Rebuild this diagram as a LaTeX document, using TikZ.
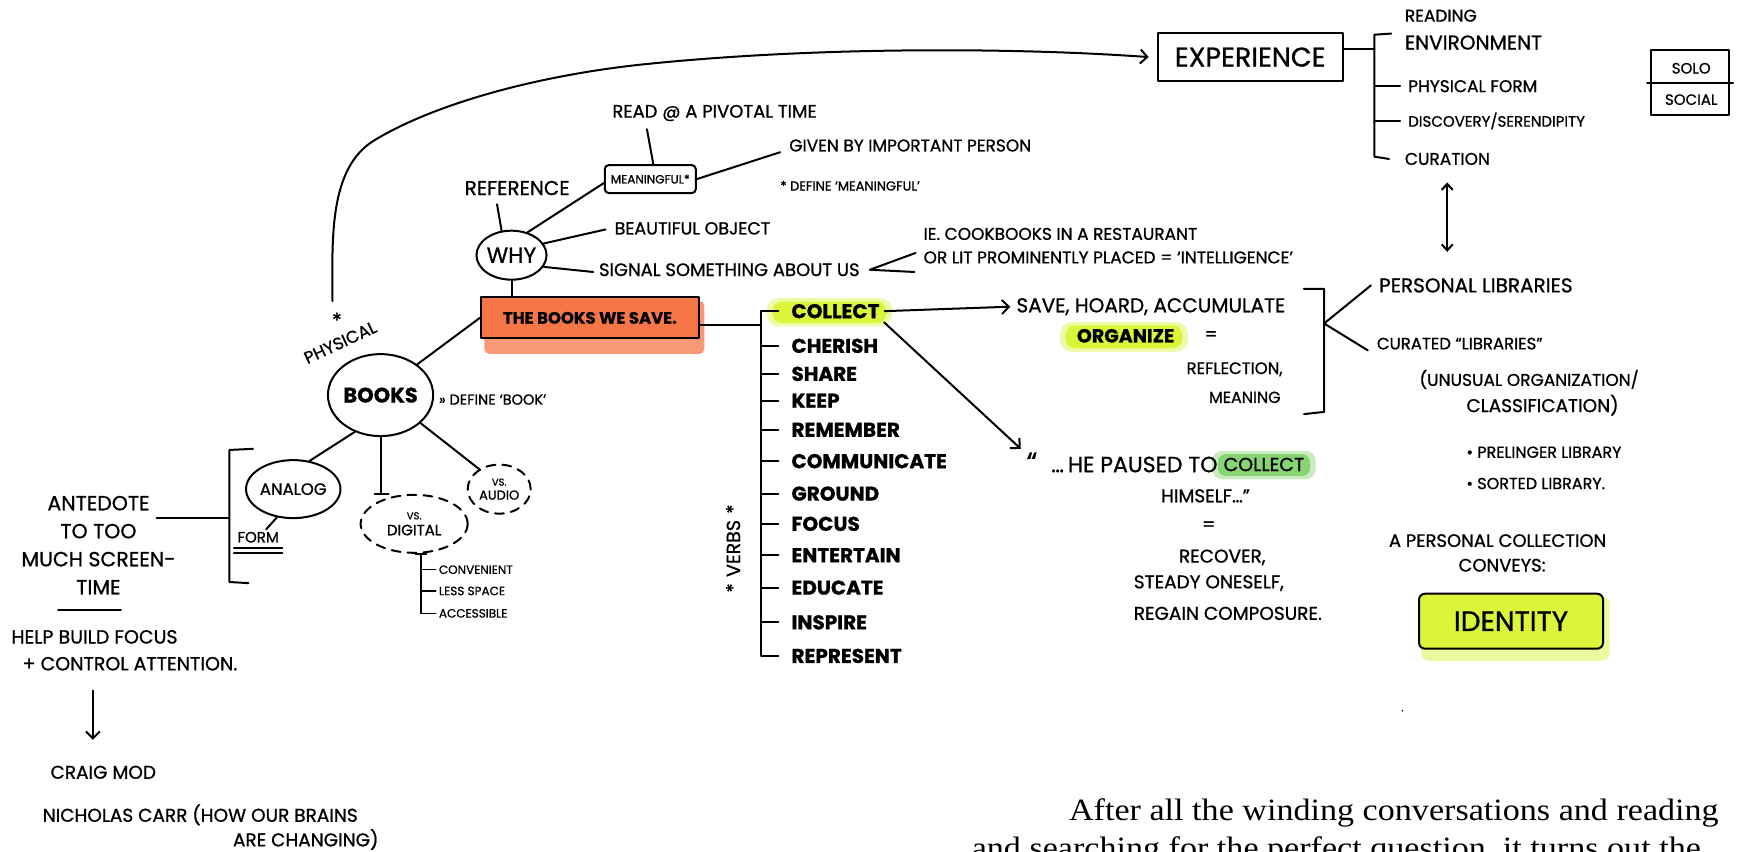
\documentclass[tikz,border=0pt]{standalone}
\usepackage{fontspec}
\setmainfont{Poppins}[FakeBold=0.9]
\newfontfamily\bodyserif{Liberation Serif}
\usetikzlibrary{arrows.meta,shapes.geometric,calc,backgrounds}
\definecolor{savebg}{RGB}{246,118,72}
\definecolor{limehl}{RGB}{218,245,58}
\definecolor{greenhl}{RGB}{120,205,95}
\begin{document}
\begin{tikzpicture}[x=1.1193pt,y=-1.1193pt,
  ink/.style={line width=2pt,line cap=round,line join=round,draw=black},
  inkthin/.style={line width=1.5pt,line cap=round,line join=round,draw=black},
  arrowend/.style={-{Straight Barb[length=7pt,width=14pt]}},
  arrowboth/.style={{Straight Barb[length=6pt,width=11pt]}-{Straight Barb[length=6pt,width=11pt]}},
  lab/.style={inner sep=0pt,anchor=west,font=\fontsize{#1}{#1}\selectfont},
  lab/.default=14,
  clab/.style={inner sep=0pt,anchor=center,font=\fontsize{#1}{#1}\selectfont},
  clab/.default=14,
  blab/.style={inner sep=0pt,anchor=west,font=\fontsize{#1}{#1}\selectfont\bfseries},
  bubble/.style={ellipse,ink,inner sep=0pt},
  dashbubble/.style={ellipse,ink,dash pattern=on 9pt off 7pt,inner sep=0pt},
  boxnode/.style={rectangle,ink,inner sep=0pt},
]
\useasboundingbox (0,0) rectangle (1568,761);

% ---------- central nodes ----------
\node[boxnode,fill=savebg,minimum width=218pt,minimum height=41pt,font=\fontsize{16.5}{16.5}\selectfont\bfseries] (save) at (527,284) {THE BOOKS WE SAVE.};
\node[bubble,minimum width=101pt,minimum height=82pt,font=\fontsize{21}{21}\selectfont\bfseries] (books) at (340,353) {BOOKS};
\node[bubble,minimum width=58pt,minimum height=49pt,font=\fontsize{22}{22}\selectfont] (why) at (457,228) {WHY};
\node[boxnode,rounded corners=4pt,minimum width=91pt,minimum height=28pt,font=\fontsize{12}{12}\selectfont] (meaning) at (581,160) {MEANINGFUL*};

\node[lab=20] (reference) at (415,168) {REFERENCE};
\node[lab=18] (pivotal) at (547,101) {READ @ A PIVOTAL TIME};
\node[lab=17] (given) at (705,130) {GIVEN BY IMPORTANT PERSON};
\node[lab=13] (defmean) at (697,166) {* DEFINE ‘MEANINGFUL’};
\node[lab=17.5] (beautiful) at (549,204) {BEAUTIFUL OBJECT};
\node[lab=18] (signal) at (535,241) {SIGNAL SOMETHING ABOUT US};
\node[lab=17] (ie1) at (825,209) {IE. COOKBOOKS IN A RESTAURANT};
\node[lab=17] (ie2) at (825,230) {OR LIT PROMINENTLY PLACED = ‘INTELLIGENCE’};
\node[lab=14.5] (defbook) at (392,357) {» DEFINE ‘BOOK’};

\node[lab=17,rotate=25,anchor=center] (physical) at (304,306) {PHYSICAL};
\node[clab=20] (pstar) at (301,286) {*};

% ---------- left branch ----------
\node[bubble,minimum width=85pt,minimum height=58pt,font=\fontsize{16.5}{16.5}\selectfont] (analog) at (262,437) {ANALOG};
\node[dashbubble,minimum width=107pt,minimum height=58pt,align=center,font=\fontsize{15}{16}\selectfont] (digital) at (370,468) {{\fontsize{10}{11}\selectfont VS.}\\DIGITAL};
\node[dashbubble,minimum width=63pt,minimum height=49pt,align=center,font=\fontsize{13}{14}\selectfont] (audio) at (446,437) {{\fontsize{10}{11}\selectfont VS.}\\AUDIO};
\node[lab=15] (form) at (212,480) {FORM};

\node[lab=12] (conv) at (392,509) {CONVENIENT};
\node[lab=12] (less) at (392,528) {LESS SPACE};
\node[lab=12] (acc) at (392,548) {ACCESSIBLE};

\node[inner sep=0pt,align=center,font=\fontsize{20.5}{28}\selectfont] (antedote) at (88,487) {ANTEDOTE\\TO TOO\\MUCH SCREEN-\\TIME};
\node[lab=19] (help1) at (10,569) {HELP BUILD FOCUS};
\node[lab=19] (help2) at (20,593) {+ CONTROL ATTENTION.};
\node[lab=18.5] (craig) at (45,690) {CRAIG MOD};
\node[lab=18.5] (carr1) at (38,728) {NICHOLAS CARR (HOW OUR BRAINS};
\node[lab=18.5] (carr2) at (208,750) {ARE CHANGING)};

% ---------- verbs ----------
\foreach \n/\t/\yy in {1/COLLECT/278,2/CHERISH/309,3/SHARE/334,4/KEEP/358,5/REMEMBER/384,6/COMMUNICATE/412,7/GROUND/441,8/FOCUS/468,9/ENTERTAIN/496,10/EDUCATE/525,11/INSPIRE/556,12/REPRESENT/586}
  \node[blab=20] (v\n) at (707,\yy) {\t};
\node[clab=19,rotate=90] (verbs) at (655,490) {*\,\,VERBS\,\,*};

% ---------- collect branch ----------
\node[lab=20] (hoard) at (908,274) {SAVE, HOARD, ACCUMULATE};
\node[blab=19] (organize) at (962,300) {ORGANIZE};
\node[clab=18] (eq1) at (1082,300) {=};
\node[lab=16.5] (reflect) at (1060,330) {REFLECTION,};
\node[lab=16] (meanw) at (1080,355) {MEANING};

\node[clab=28] (qo) at (922,413) {“};
\node[lab=22,anchor=east] (q1) at (1088,415) {…\hspace{4pt}HE PAUSED TO};
\node[lab=19] (qc) at (1093,415) {COLLECT};
\node[clab=18.5] (q2) at (1077,443) {HIMSELF…”};
\node[clab=18.5] (q3) at (1080,470) {=};
\node[clab=18.5] (q4) at (1092,498) {RECOVER,};
\node[clab=18.5] (q5) at (1080,521) {STEADY ONESELF,};
\node[clab=18.5] (q6) at (1097,548) {REGAIN COMPOSURE.};

% ---------- right side ----------
\node[lab=20] (personal) at (1232,255) {PERSONAL LIBRARIES};
\node[lab=16.5] (curated) at (1230,307) {CURATED “LIBRARIES”};
\node[lab=17] (unusual) at (1268,339) {(UNUSUAL ORGANIZATION/};
\node[lab=18.5] (classif) at (1310,362) {CLASSIFICATION)};
\node[lab=16] (prel) at (1310,404) {• PRELINGER LIBRARY};
\node[lab=16] (sorted) at (1310,432) {• SORTED LIBRARY.};
\node[clab=18] (apc) at (1338,483) {A PERSONAL COLLECTION};
\node[clab=18] (conveys) at (1342,505) {CONVEYS:};
\node[boxnode,fill=limehl,rounded corners=6pt,minimum width=184pt,minimum height=55pt,font=\fontsize{28}{28}\selectfont] (identity) at (1350,555) {IDENTITY};
\fill (1253,635) circle (0.9pt);

\node[boxnode,minimum width=185pt,minimum height=48pt,font=\fontsize{27}{27}\selectfont] (exp) at (1117,51) {EXPERIENCE};
\node[lab=17] (rd1) at (1255,14) {READING};
\node[lab=20] (rd2) at (1255,38) {ENVIRONMENT};
\node[lab=17] (pf) at (1258,77) {PHYSICAL FORM};
\node[lab=15] (disc) at (1258,108) {DISCOVERY/SERENDIPITY};
\node[lab=17] (cur) at (1255,142) {CURATION};

\node[boxnode,minimum width=78pt,minimum height=65pt] (solobox) at (1510,74) {};
\draw[ink] ([xshift=-3pt]solobox.west) -- ([xshift=3pt]solobox.east);
\node[clab=15] (solo) at (1511,61) {SOLO};
\node[clab=15] (social) at (1511,89) {SOCIAL};

% ---------- bottom paragraph ----------
\node[inner sep=0pt,anchor=base west,xscale=1.1,font=\bodyserif\fontsize{31}{31}\selectfont] (para1) at (955,733) {After all the winding conversations and reading};
\node[inner sep=0pt,anchor=base west,xscale=1.1,font=\bodyserif\fontsize{31}{31}\selectfont] (para2) at (868,767) {and searching for the perfect question, it turns out the};

% ---------- highlights (behind) ----------
\begin{pgfonlayer}{background}
\fill[white] (0,0) rectangle (1568,761);
\fill[savebg,opacity=.75,rounded corners=5pt] ([shift={(4,4)}]save.north west) rectangle ([shift={(4,13)}]save.south east);
\fill[limehl,opacity=.45,rounded corners=12pt] ([shift={(-22,-5)}]v1.north west) rectangle ([shift={(11,7)}]v1.south east);
\fill[limehl,rounded corners=10pt] ([shift={(-17,-2)}]v1.north west) rectangle ([shift={(6,4)}]v1.south east);
\fill[limehl,opacity=.45,rounded corners=12pt] ([shift={(-15,-6)}]organize.north west) rectangle ([shift={(12,8)}]organize.south east);
\fill[limehl,rounded corners=10pt] ([shift={(-10,-3)}]organize.north west) rectangle ([shift={(7,5)}]organize.south east);
\fill[greenhl,opacity=.4,rounded corners=10pt] ([shift={(-10,-6)}]qc.north west) rectangle ([shift={(10,7)}]qc.south east);
\fill[greenhl,opacity=.8,rounded corners=8pt] ([shift={(-5,-3)}]qc.north west) rectangle ([shift={(5,4)}]qc.south east);
\fill[limehl,opacity=.5,rounded corners=8pt] ([shift={(3,3)}]identity.north west) rectangle ([shift={(5,10)}]identity.south east);
\end{pgfonlayer}

% ---------- connectors ----------
\draw[ink] (books.40) -- (save.west);
\draw[ink] (why.south) -- (why.south |- save.north);
\draw[ink] (why.112) -- ([shift={(-18,8)}]reference.south);
\draw[ink] (why.55) -- ([yshift=-4pt]meaning.west);
\draw[ink] ([xshift=3pt]meaning.north) -- ([shift={(31,7)}]pivotal.south west);
\draw[ink] (meaning.east) -- ([shift={(-8,6)}]given.west);
\draw[ink] (why.20) -- ([shift={(-8,1)}]beautiful.west);
\draw[ink] (why.-20) -- ([shift={(-5,2)}]signal.west);
\draw[ink] ([shift={(-7,17)}]ie1.west) -- ([xshift=10pt]signal.east) -- ([shift={(-8,13)}]ie2.west);

\draw[ink,arrowend] ([shift={(-4,-17)}]pstar.center) .. controls (297,215) and (293,150) .. (335,125)
  .. controls (390,92) and (480,68) .. (570,58) .. controls (720,42) and (900,42) .. ([xshift=-8pt]exp.west);

\draw[ink] (books.235) -- (analog.60);
\draw[ink] (books.-35) -- (audio.135);
\draw[ink] (books.south) -- coordinate[pos=1] (dT) (books.south |- digital.north);
\draw[ink] ([xshift=-6pt]dT) -- ([xshift=8pt]dT);
\draw[ink] (analog.240) -- ([shift={(7,-2)}]form.north);
\draw[ink] ([shift={(-3,5)}]form.south west) -- ([shift={(3,5)}]form.south east);
\draw[ink] ([shift={(-3,9)}]form.south west) -- ([shift={(3,9)}]form.south east);

\coordinate (dsx) at (376,0);
\draw[inkthin] ($(digital.south -| dsx)+(-5,0)$) -- ($(digital.south -| dsx)+(5,0)$);
\draw[inkthin] (digital.south -| dsx) -- (acc.west -| dsx) -- ([xshift=-3pt]acc.west);
\draw[inkthin] (conv.west -| dsx) -- ([xshift=-3pt]conv.west);
\draw[inkthin] (less.west -| dsx) -- ([xshift=-3pt]less.west);

\coordinate (brk) at (205,463);
\coordinate (antL) at (140,463);
\draw[ink] (226,401) -- (205,402) -- (brk) -- (205,520) -- (222,521);
\draw[ink] (antL) -- (brk);
\draw[ink] (52,545) -- (108,545);
\coordinate (a1) at (83,617);
\coordinate (a2) at (83,661);
\draw[ink,arrowend] (a1) -- (a2);

\coordinate (vx) at (680,0);
\draw[ink] ([xshift=-13pt]v1.west) -- (v1.west -| vx) -- (v12.west -| vx) -- ([xshift=-13pt]v12.west);
\foreach \n in {2,...,11} \draw[ink] (v\n.west -| vx) -- ([xshift=-13pt]v\n.west);
\draw[ink] ([yshift=-7pt]save.east) -- ([yshift=-7pt]save.east -| vx);

\draw[ink,arrowend] ([xshift=5pt]v1.east) -- ([xshift=-6pt]hoard.west);
\draw[ink,arrowend] ([shift={(4,10)}]v1.east) -- ([shift={(-10,-12)}]qo.center);

\draw[ink] (1165,258) -- (1183,258) -- (1183,368) -- (1165,370);
\coordinate (kv) at (1183,289);
\draw[ink] ([xshift=-8pt]personal.west) -- (kv) -- ([shift={(-8,6)}]curated.west);

\coordinate (ex) at (1228,0);
\draw[ink] ([yshift=8pt]exp.east) -- ([yshift=8pt]exp.east -| ex);
\draw[ink] (1243,30) -- (1228,31) -- (1228,140) -- (1241,142);
\draw[ink] (pf.west -| ex) -- ([xshift=-8pt]pf.west);
\draw[ink] (disc.west -| ex) -- ([xshift=-8pt]disc.west);
\coordinate (dA) at (1293,163);
\coordinate (dB) at (1293,225);
\draw[ink,arrowboth] (dA) -- (dB);
\end{tikzpicture}
\end{document}
